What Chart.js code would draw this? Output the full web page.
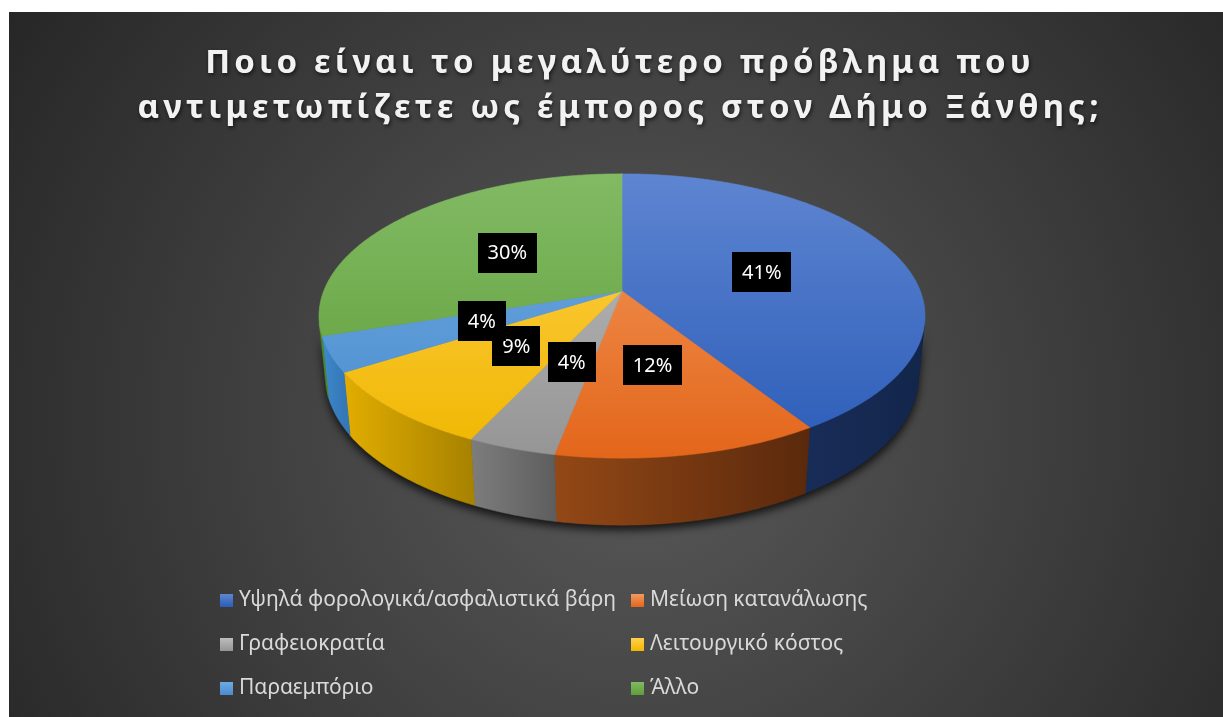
<!DOCTYPE html>
<html>
<head>
<meta charset="utf-8">
<script src="https://cdn.jsdelivr.net/npm/chart.js@4.4.1/dist/chart.umd.min.js"></script>
<style>
  html, body { margin: 0; padding: 0; background: #ffffff; }
  #wrap { position: absolute; left: 0; top: 0; width: 1223px; height: 717px; }
</style>
</head>
<body>
<div id="wrap"><canvas id="problemChart" width="1223" height="717"></canvas></div>
<script>
const categories = [
    'Υψηλά φορολογικά/ασφαλιστικά βάρη',
    'Μείωση κατανάλωσης',
    'Γραφειοκρατία',
    'Λειτουργικό κόστος',
    'Παραεμπόριο',
    'Άλλο'
];
const shares = [41, 12, 4, 9, 4, 30];
const titleLines = [
    'Ποιο είναι το μεγαλύτερο πρόβλημα που',
    'αντιμετωπίζετε ως έμπορος στον Δήμο Ξάνθης;'
];

// office palette, plus shading for the top face (back -> front) and the rim (left -> right)
const sliceColors = ['#4472C4', '#ED7D31', '#A5A5A5', '#FFC000', '#5B9BD5', '#70AD47'];
const topShades = [
    ['#5e85d1', '#2b5cb8'],
    ['#f39a5f', '#e3661a'],
    ['#bdbdbd', '#959595'],
    ['#ffd04e', '#f0b700'],
    ['#6eaae2', '#4a8ccd'],
    ['#82ba64', '#5e9e38']
];
const sideShades = [
    ['#182c58', '#12264b'],
    ['#934816', '#5a290c'],
    ['#7d7d7d', '#5e5e5e'],
    ['#e2ad00', '#a88300'],
    ['#3f89cc', '#3478b8'],
    ['#559a2f', '#4a8a28']
];

// camera for the tilted pie
const view = {
    cx: 622, cy: 291,     // screen position of the pie centre
    tilt: 27.5 * Math.PI / 180,
    dist: 5.04,           // eye distance in pie radii
    scale: 298.3,         // px per radius at the centre
    depth: 0.227          // pie thickness in radii
};
const sinT = Math.sin(view.tilt), cosT = Math.cos(view.tilt);
const focal = view.scale * view.dist;

function project(x, y, z) {
    // y points down, z points towards the viewer
    const v = y * cosT + z * sinT;
    const w = view.dist + y * sinT - z * cosT;
    return [view.cx + focal * x / w, view.cy + focal * v / w];
}
function rim(a, y, r) {
    r = r === undefined ? 1 : r;
    return project(r * Math.cos(a), y, r * Math.sin(a));
}
function steps(a0, a1) {
    return Math.max(2, Math.ceil((a1 - a0) / 0.01));
}

const pie3d = {
    id: 'pie3d',
    beforeDraw(chart) {
        const ctx = chart.ctx;
        ctx.save();
        const bg = ctx.createRadialGradient(640, 420, 0, 640, 420, 760);
        bg.addColorStop(0, '#5a5a5a');
        bg.addColorStop(1, '#262626');
        ctx.fillStyle = bg;
        ctx.fillRect(9, 12, 1214, 705);

        // title, letter spaced
        ctx.font = 'bold 33px "Noto Sans"';
        ctx.fillStyle = '#f2f2f2';
        ctx.textBaseline = 'alphabetic';
        ctx.shadowColor = 'rgba(0,0,0,0.65)';
        ctx.shadowBlur = 4;
        ctx.shadowOffsetX = 1;
        ctx.shadowOffsetY = 2;
        const natural = ctx.measureText(titleLines[0]).width;
        const spacing = (820 - natural) / (titleLines[0].length - 1);
        const baselines = [73, 118];
        titleLines.forEach((line, i) => {
            const chars = Array.from(line);
            let w = 0;
            chars.forEach(ch => { w += ctx.measureText(ch).width; });
            w += spacing * (chars.length - 1);
            let x = 618 - w / 2;
            chars.forEach(ch => {
                ctx.fillText(ch, x, baselines[i]);
                x += ctx.measureText(ch).width + spacing;
            });
        });
        ctx.restore();
    },
    beforeDatasetsDraw(chart) {
        const ctx = chart.ctx;
        const arcs = chart.getDatasetMeta(0).data;
        const h = view.depth;
        const vis0 = Math.asin(1 / (view.dist * cosT));
        const vis1 = Math.PI - vis0;

        ctx.save();
        // soft shadow under the rim
        ctx.beginPath();
        let n = steps(vis0, vis1);
        for (let i = 0; i <= n; i++) {
            const p = rim(vis0 + (vis1 - vis0) * i / n, 0);
            i ? ctx.lineTo(p[0], p[1]) : ctx.moveTo(p[0], p[1]);
        }
        for (let i = n; i >= 0; i--) {
            const p = rim(vis0 + (vis1 - vis0) * i / n, h);
            ctx.lineTo(p[0], p[1]);
        }
        ctx.closePath();
        ctx.fillStyle = '#111';
        ctx.shadowColor = 'rgba(0,0,0,0.75)';
        ctx.shadowBlur = 9;
        ctx.shadowOffsetY = 5;
        ctx.fill();
        ctx.restore();

        // rim walls
        arcs.forEach((arc, i) => {
            const a0 = Math.max(arc.startAngle, vis0);
            const a1 = Math.min(arc.endAngle, vis1);
            if (a0 >= a1) return;
            const m = steps(a0, a1);
            const top = [], bottom = [];
            for (let k = 0; k <= m; k++) {
                const a = a0 + (a1 - a0) * k / m;
                top.push(rim(a, 0));
                bottom.push(rim(a, h));
            }
            const xs = top.map(p => p[0]);
            const left = Math.min(...xs), right = Math.max(...xs);
            const g = ctx.createLinearGradient(left, 0, right, 0);
            g.addColorStop(0, sideShades[i][0]);
            g.addColorStop(1, sideShades[i][1]);
            ctx.beginPath();
            top.forEach((p, k) => k ? ctx.lineTo(p[0], p[1]) : ctx.moveTo(p[0], p[1]));
            bottom.reverse().forEach(p => ctx.lineTo(p[0], p[1]));
            ctx.closePath();
            ctx.fillStyle = g;
            ctx.strokeStyle = g;
            ctx.lineWidth = 0.6;
            ctx.fill();
            ctx.stroke();
        });

        // top faces
        const yTop = rim(-Math.PI / 2, 0)[1];
        const yBottom = rim(Math.PI / 2, 0)[1];
        arcs.forEach((arc, i) => {
            const g = ctx.createLinearGradient(0, yTop, 0, yBottom);
            g.addColorStop(0, topShades[i][0]);
            g.addColorStop(1, topShades[i][1]);
            ctx.beginPath();
            ctx.moveTo(view.cx, view.cy);
            const m = steps(arc.startAngle, arc.endAngle);
            for (let k = 0; k <= m; k++) {
                const p = rim(arc.startAngle + (arc.endAngle - arc.startAngle) * k / m, 0);
                ctx.lineTo(p[0], p[1]);
            }
            ctx.closePath();
            ctx.fillStyle = g;
            ctx.strokeStyle = g;
            ctx.lineWidth = 0.6;
            ctx.fill();
            ctx.stroke();
        });

        // value labels, halfway out along each slice
        const total = shares.reduce((s, v) => s + v, 0);
        ctx.font = '20px "Noto Sans"';
        ctx.textAlign = 'center';
        ctx.textBaseline = 'middle';
        arcs.forEach((arc, i) => {
            const mid = (arc.startAngle + arc.endAngle) / 2;
            const p = rim(mid, 0, 0.5);
            const text = Math.round(shares[i] / total * 100) + '%';
            const w = ctx.measureText(text).width + 20;
            ctx.fillStyle = '#000000';
            ctx.fillRect(Math.round(p[0] - w / 2), Math.round(p[1] - 20), Math.round(w), 40);
            ctx.fillStyle = '#ffffff';
            ctx.fillText(text, p[0], p[1] + 1);
        });
        return false;
    },
    afterDraw(chart) {
        // two-column legend under the pie
        const ctx = chart.ctx;
        const cols = [220, 631];
        const rows = [600, 644, 688];
        ctx.save();
        ctx.font = '21px "Noto Sans"';
        ctx.textBaseline = 'middle';
        ctx.textAlign = 'left';
        categories.forEach((label, i) => {
            const x = cols[i % 2], y = rows[Math.floor(i / 2)];
            const g = ctx.createLinearGradient(0, y - 6, 0, y + 7);
            g.addColorStop(0, topShades[i][0]);
            g.addColorStop(1, topShades[i][1]);
            ctx.fillStyle = g;
            ctx.fillRect(x, y - 6, 13, 13);
            ctx.fillStyle = '#d9d9d9';
            ctx.fillText(label, x + 19, y);
        });
        ctx.restore();
    }
};

new Chart(document.getElementById('problemChart'), {
    type: 'pie',
    data: {
        labels: categories,
        datasets: [{
            data: shares,
            backgroundColor: sliceColors,
            borderWidth: 0
        }]
    },
    options: {
        responsive: false,
        animation: false,
        plugins: {
            legend: { display: false },
            tooltip: { enabled: false },
            title: { display: false }
        }
    },
    plugins: [pie3d]
});
</script>
</body>
</html>
